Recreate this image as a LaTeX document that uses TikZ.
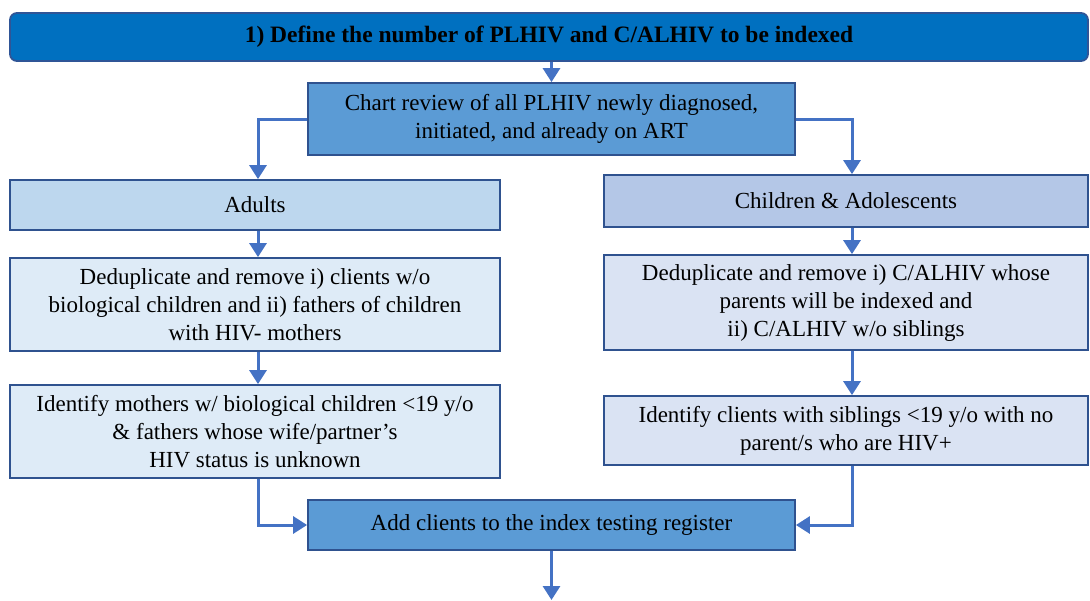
\documentclass[tikz,border=0pt]{standalone}
\usepackage{fontspec}
\setmainfont{LiberationSerif}[Extension=.ttf, UprightFont=*-Regular, BoldFont=*-Bold, ItalicFont=*-Italic, BoldItalicFont=*-BoldItalic]
\usetikzlibrary{arrows.meta}
\definecolor{topfill}{HTML}{0070C0}
\definecolor{topdraw}{HTML}{2F5597}
\definecolor{midfill}{HTML}{5B9BD5}
\definecolor{boxdraw}{HTML}{2F528F}
\definecolor{adultfill}{HTML}{BDD7EE}
\definecolor{childfill}{HTML}{B4C7E7}
\definecolor{paleleft}{HTML}{DEEBF7}
\definecolor{paleright}{HTML}{DAE3F3}
\definecolor{arrowcol}{HTML}{4472C4}
\tikzset{
  basebox/.style={draw=boxdraw, line width=1.8pt, align=center, inner sep=0pt,
    font=\fontsize{23}{28}\selectfont},
  titlebox/.style={basebox, fill=topfill, draw=topdraw, rounded corners=7pt,
    font=\fontsize{23.5}{26}\selectfont\bfseries},
  darkbox/.style={basebox, fill=midfill},
  adultbox/.style={basebox, fill=adultfill},
  childbox/.style={basebox, fill=childfill},
  paleLbox/.style={basebox, fill=paleleft},
  paleRbox/.style={basebox, fill=paleright},
  conn/.style={draw=arrowcol, line width=3pt,
    -{Triangle[width=17pt,length=14pt]}}
}
\begin{document}
\begin{tikzpicture}[x=1pt,y=-1pt]
\useasboundingbox (0,0) rectangle (1090,600);
\node[titlebox, minimum width=1078pt, minimum height=48pt] (top) at (549,37)
  {1) Define the number of PLHIV and C/ALHIV to be indexed};
\node[darkbox, minimum width=487pt, minimum height=72pt] (chart) at (551.5,119)
  {Chart review of all PLHIV newly diagnosed,\\initiated, and already on ART};
\node[adultbox, minimum width=490pt, minimum height=50pt] (adults) at (255,205)
  {Adults};
\node[childbox, minimum width=484pt, minimum height=52pt] (children) at (846,201)
  {Children \& Adolescents};
\node[paleLbox, minimum width=490pt, minimum height=93pt] (dedupL) at (255,304.5)
  {Deduplicate and remove i) clients w/o\\biological children and ii) fathers of children\\with HIV- mothers};
\node[paleLbox, minimum width=490pt, minimum height=93pt] (identL) at (255,431.5)
  {Identify mothers w/ biological children <19 y/o\\\& fathers whose wife/partner’s\\HIV status is unknown};
\node[paleRbox, minimum width=484pt, minimum height=95pt] (dedupR) at (846,302.5)
  {Deduplicate and remove i) C/ALHIV whose\\parents will be indexed and\\ii) C/ALHIV w/o siblings};
\node[paleRbox, minimum width=484pt, minimum height=69pt] (identR) at (846,430.5)
  {Identify clients with siblings <19 y/o with no\\parent/s who are HIV+};
\node[darkbox, minimum width=487pt, minimum height=50pt] (add) at (551.5,525)
  {Add clients to the index testing register};
\coordinate (bottom) at (551.5,600);
\draw[conn] (chart.north |- top.south) -- (chart.north);
\draw[conn] (chart.west) -| ([xshift=3pt]adults.north);
\draw[conn] (chart.east) -| ([xshift=6pt]children.north);
\draw[conn] ([xshift=3pt]adults.south) -- ([xshift=3pt]dedupL.north);
\draw[conn] ([xshift=3pt]dedupL.south) -- ([xshift=3pt]identL.north);
\draw[conn] ([xshift=6pt]children.south) -- ([xshift=6pt]dedupR.north);
\draw[conn] ([xshift=6pt]dedupR.south) -- ([xshift=6pt]identR.north);
\draw[conn] ([xshift=3pt]identL.south) |- (add.west);
\draw[conn] ([xshift=6pt]identR.south) |- (add.east);
\draw[conn] (add.south) -- (bottom);
\end{tikzpicture}
\end{document}
